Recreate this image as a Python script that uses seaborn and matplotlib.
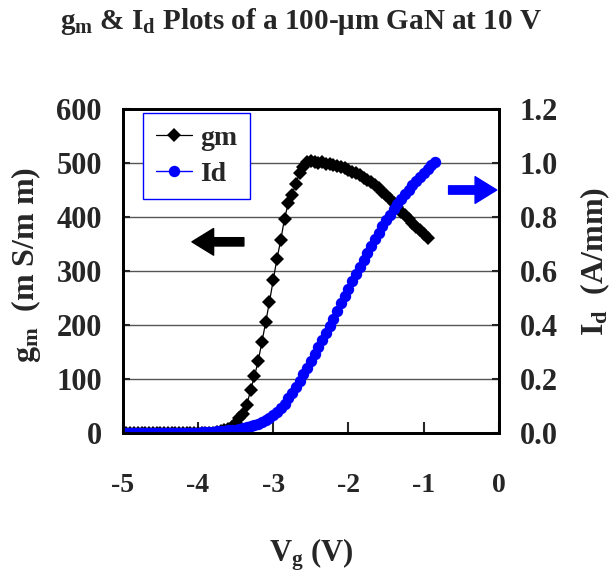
import numpy as np
import pandas as pd
import matplotlib
matplotlib.use("Agg")
import matplotlib.pyplot as plt
from matplotlib.lines import Line2D
import seaborn as sns

# ---------------- data ----------------
vg = [-5.00, -4.95, -4.90, -4.85, -4.80, -4.75, -4.70, -4.65, -4.60, -4.55,
      -4.50, -4.45, -4.40, -4.35, -4.30, -4.25, -4.20, -4.15, -4.10, -4.05,
      -4.00, -3.95, -3.90, -3.85, -3.80, -3.75, -3.70, -3.65, -3.60, -3.55,
      -3.50, -3.45, -3.40, -3.35, -3.30, -3.25, -3.20, -3.15, -3.10, -3.05,
      -3.00, -2.95, -2.90, -2.85, -2.80, -2.75, -2.70, -2.65, -2.60, -2.55,
      -2.50, -2.45, -2.40, -2.35, -2.30, -2.25, -2.20, -2.15, -2.10, -2.05,
      -2.00, -1.95, -1.90, -1.85, -1.80, -1.75, -1.70, -1.65, -1.60, -1.55,
      -1.50, -1.45, -1.40, -1.35, -1.30, -1.25, -1.20, -1.15, -1.10, -1.05,
      -1.00, -0.95, -0.90, -0.85]

gm = [0, 0, 0, 0, 0, 0, 0, 0, 0, 0,
      0, 0, 0, 0, 0, 0, 0, 0, 0, 0,
      0, 0, 0, 0, 0, 1, 3, 5, 8, 12,
      18, 27, 36, 52, 80, 105, 133, 169, 205, 243,
      283, 323, 357, 397, 425, 441, 462, 481, 493, 502,
      503, 501, 500, 501, 499, 498, 496, 494, 492, 490,
      487, 484, 481, 477, 473, 469, 464, 459, 453, 447,
      441, 434, 426, 418, 410, 403, 396, 389, 382, 375,
      369, 362]

id_ = [0.001, 0.001, 0.001, 0.001, 0.001, 0.001, 0.001, 0.001, 0.001, 0.001,
       0.001, 0.001, 0.001, 0.001, 0.001, 0.001, 0.001, 0.001, 0.001, 0.001,
       0.001, 0.002, 0.003, 0.004, 0.005, 0.006, 0.007, 0.009, 0.010, 0.012,
       0.013, 0.015, 0.018, 0.021, 0.025, 0.029, 0.035, 0.040, 0.047, 0.055,
       0.065, 0.076, 0.091, 0.108, 0.128, 0.149, 0.170, 0.193, 0.217, 0.242,
       0.267, 0.293, 0.318, 0.344, 0.370, 0.397, 0.424, 0.452, 0.480, 0.508,
       0.535, 0.562, 0.589, 0.615, 0.642, 0.668, 0.694, 0.718, 0.742, 0.766,
       0.788, 0.809, 0.829, 0.848, 0.866, 0.884, 0.901, 0.917, 0.932, 0.948,
       0.963, 0.978, 0.993, 1.003]

x_ticks = [-5, -4, -3, -2, -1, 0]
gm_ticks = [0, 100, 200, 300, 400, 500, 600]
id_ticks = [0.0, 0.2, 0.4, 0.6, 0.8, 1.0, 1.2]

df_gm = pd.DataFrame({"Vg": vg[:len(gm)], "gm": gm})
df_id = pd.DataFrame({"Vg": vg[:len(id_)], "Id": id_})

# ---------------- style ----------------
sns.set_theme(style="white")
plt.rcParams["font.family"] = ["Liberation Serif", "DejaVu Serif"]
plt.rcParams["font.weight"] = "bold"
plt.rcParams["mathtext.fontset"] = "custom"
plt.rcParams["mathtext.rm"] = "Liberation Serif:bold"
plt.rcParams["mathtext.it"] = "Liberation Serif:bold"
plt.rcParams["mathtext.bf"] = "Liberation Serif:bold"
plt.rcParams["mathtext.default"] = "bf"

fig = plt.figure(figsize=(6.15, 5.73), dpi=100)
ax = fig.add_axes([0.1995, 0.2443, 0.6119, 0.5655])
ax2 = ax.twinx()

GM_MS = 7.2
ID_MS = 8.2
sns.lineplot(data=df_gm, x="Vg", y="gm", ax=ax, color="black", linewidth=0.9,
             marker="D", markersize=GM_MS, markeredgewidth=0, estimator=None,
             sort=False)
sns.lineplot(data=df_id, x="Vg", y="Id", ax=ax2, color="#0000ff", linewidth=1,
             marker="o", markersize=ID_MS, markeredgewidth=0, estimator=None,
             sort=False)

ax.set_xlim(-5, 0)
ax.set_ylim(0, 600)
ax2.set_ylim(0, 1.2)
ax.set_xticks(x_ticks)
ax.set_xticklabels([str(t) for t in x_ticks])
ax.set_yticks(gm_ticks)
ax.set_yticklabels([str(t) for t in gm_ticks])
ax2.set_yticks(id_ticks)
ax2.set_yticklabels([f"{t:.1f}" for t in id_ticks])

ax.yaxis.grid(True, color="#555555", linewidth=1.0)
ax.xaxis.grid(False)
ax2.grid(False)
ax.set_axisbelow(True)

for a in (ax, ax2):
    for s in a.spines.values():
        s.set_color("black")
        s.set_linewidth(2)
ax.tick_params(axis="x", direction="in", length=8, width=1.5, pad=29,
               labelsize=20, bottom=True, top=False)
ax.tick_params(axis="y", direction="in", length=5, width=1.5, pad=15,
               labelsize=22, left=True)
ax2.tick_params(axis="y", direction="in", length=5, width=1.5, pad=15,
                labelsize=22, right=True)

ax.set_xlabel(r"$V_g$ (V)", fontsize=22, fontweight="bold")
ax.set_ylabel(r"$g_m$  (m S/m m)", fontsize=23, fontweight="bold")
ax2.set_ylabel(r"$I_d$  (A/mm)", fontsize=23, fontweight="bold")
ax.xaxis.set_label_coords(0.5, -0.318)
ax.yaxis.set_label_coords(-0.212, 0.518)
ax2.yaxis.set_label_coords(1.212, 0.53)

fig.suptitle(r"$g_m$ & $I_d$ Plots of a 100-μm GaN at 10 V", x=0.49, y=0.99,
             fontsize=21, fontweight="bold")

# direction arrows
ax.annotate("", xy=(-4.08, 354), xytext=(-3.39, 354),
            arrowprops=dict(arrowstyle="simple,head_length=1.3,head_width=1.6,tail_width=0.5",
                            color="black", shrinkA=0, shrinkB=0), zorder=5)
ax2.annotate("", xy=(-0.03, 0.90), xytext=(-0.67, 0.90),
             arrowprops=dict(arrowstyle="simple,head_length=1.3,head_width=1.6,tail_width=0.5",
                             color="#0000ff", shrinkA=0, shrinkB=0), zorder=5)

handles = [Line2D([], [], color="black", linewidth=0.9, marker="D", markersize=GM_MS,
                  markeredgewidth=0, label="gm"),
           Line2D([], [], color="#0000ff", linewidth=1, marker="o", markersize=ID_MS,
                  markeredgewidth=0, label="Id")]
if ax.get_legend() is not None:
    ax.get_legend().remove()
if ax2.get_legend() is not None:
    ax2.get_legend().remove()
leg = ax2.legend(handles=handles, loc="upper left", bbox_to_anchor=(0.054, 0.988),
                 frameon=True, fancybox=False, borderaxespad=0,
                 handlelength=1.3, handletextpad=0.3, labelspacing=0.38,
                 borderpad=0.45, prop={"family": "Liberation Serif", "weight": "bold", "size": 20})
leg.get_frame().set_edgecolor("#0000ff")
leg.get_frame().set_linewidth(1.0)
leg.get_frame().set_facecolor("white")
leg.get_frame().set_alpha(1)

fig.savefig("out.png", dpi=100)
